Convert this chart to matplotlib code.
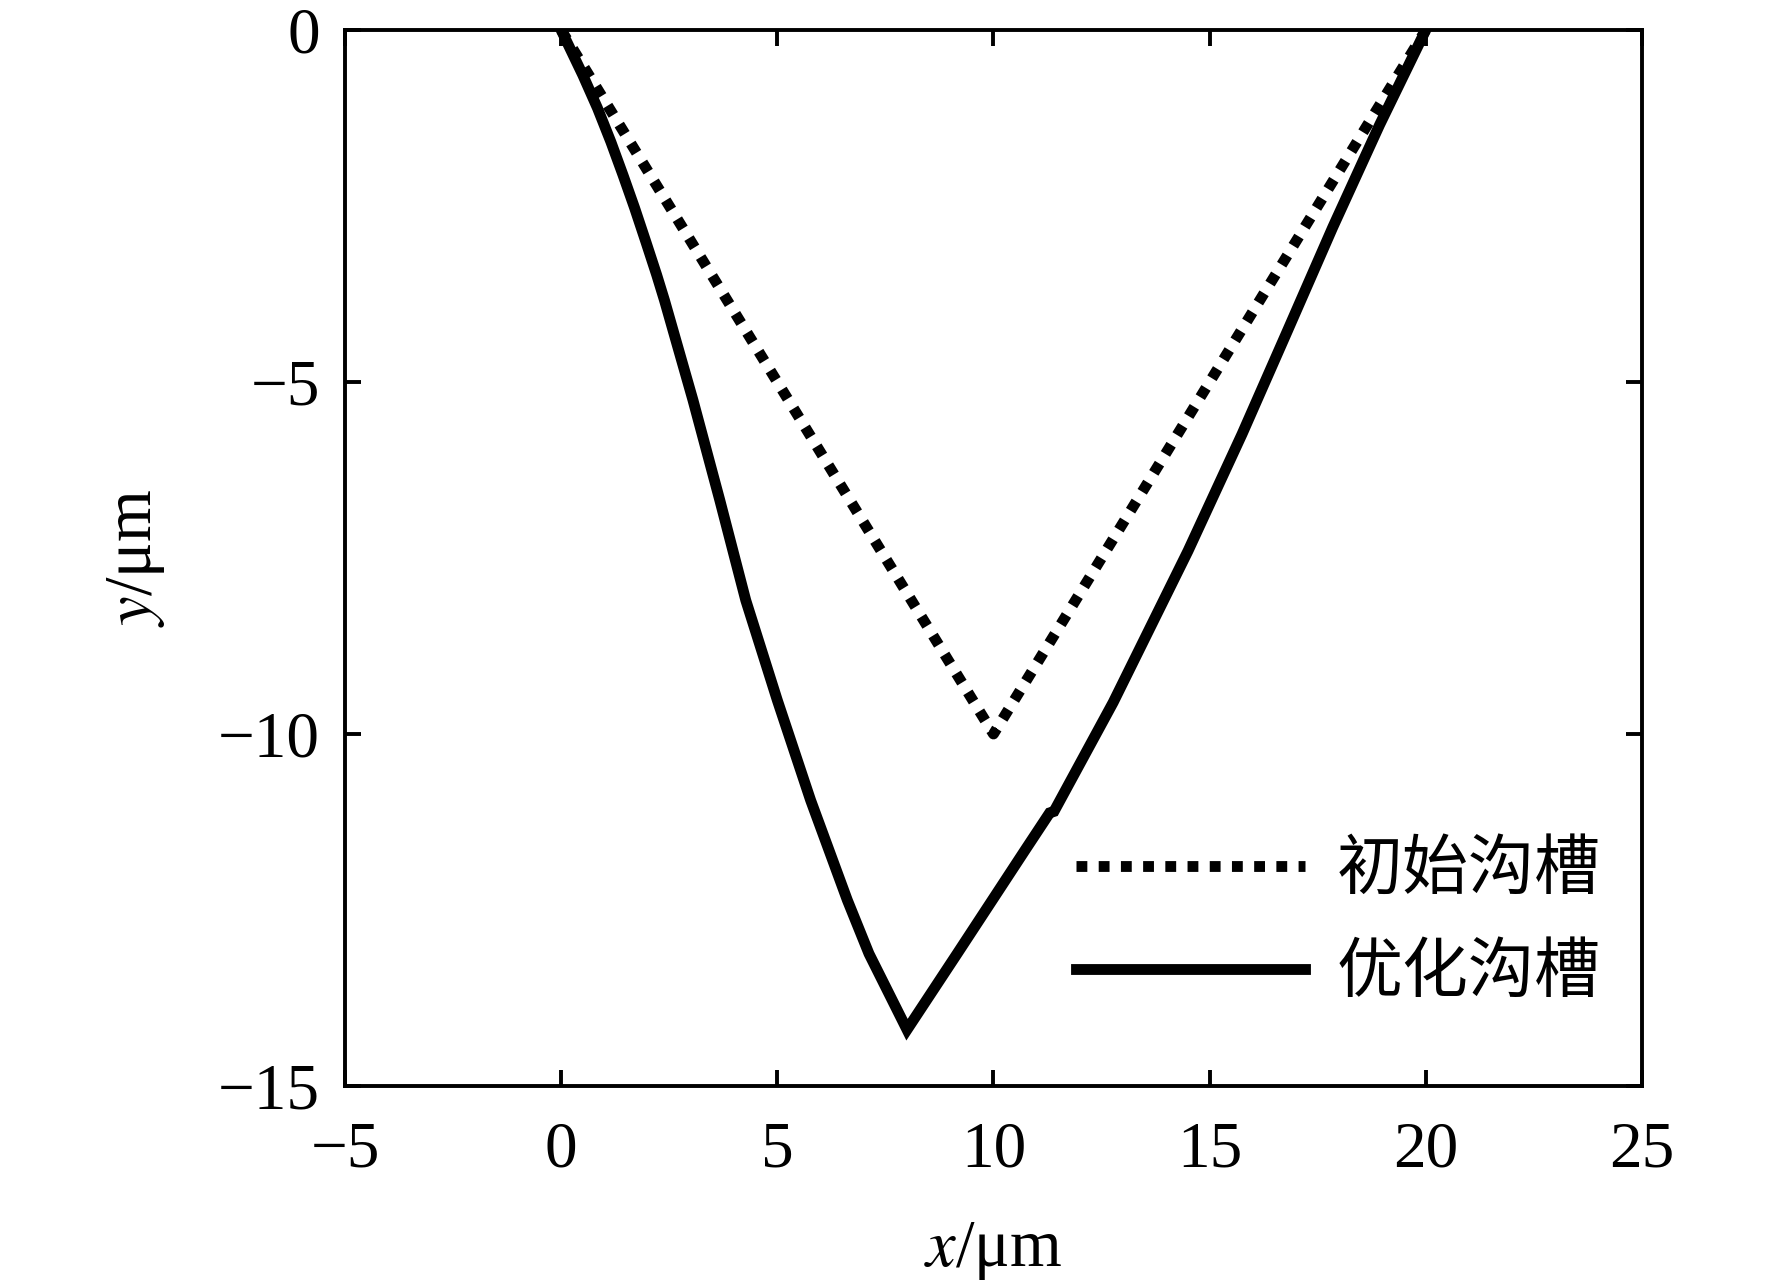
import numpy as np
import matplotlib
matplotlib.use('Agg')
import matplotlib.pyplot as plt

#Fuentes
plt.rcParams['font.family'] = ['Liberation Serif', 'DejaVu Serif']
plt.rcParams['mathtext.fontset'] = 'stix'

#Datos: perfil de los surcos (x en um, y en um)
x_inicial = [0, 10, 20]
y_inicial = [0, -10, 0]

x_optimo = [0, 0.5, 0.84, 1.15, 1.43, 1.70, 1.96, 2.21, 2.39, 3.05, 3.67, 4.27,
            5.0, 5.77, 6.62, 7.12, 8.0,
            9.16, 10.73, 11.3, 11.4, 12.77, 14.5, 15.75, 16.81, 17.85, 18.93, 20]
y_optimo = [0, -0.64, -1.11, -1.59, -2.06, -2.53, -3.01, -3.48, -3.84, -5.26, -6.68, -8.10,
            -9.52, -10.94, -12.36, -13.12, -14.2,
            -13.12, -11.65, -11.12, -11.1, -9.55, -7.4, -5.74, -4.26, -2.80, -1.35, 0]

etiquetas = ['初始沟槽', '优化沟槽']
xticks = [-5, 0, 5, 10, 15, 20, 25]
yticks = [0, -5, -10, -15]

#Figura
fig = plt.figure(figsize=(17.72, 12.86), dpi=100)
ax = fig.add_axes([0.1947, 0.1555, 0.7319, 0.8212])

ax.plot(x_inicial, y_inicial, color='black', lw=7.8,
        linestyle=(0, (1, 1.05)), dash_capstyle='butt', label=etiquetas[0])
ax.plot(x_optimo, y_optimo, color='black', lw=7.8, solid_joinstyle='miter',
        label=etiquetas[1])

ax.set_xlim(-5, 25)
ax.set_ylim(-15, 0)
ax.set_xticks(xticks)
ax.set_yticks(yticks)

for s in ax.spines.values():
    s.set_linewidth(2.8)
ax.tick_params(which='both', direction='in', top=True, right=True,
               length=11.5, width=2.8, labelsize=47)
ax.tick_params(axis='y', pad=18)
ax.tick_params(axis='x', pad=25)

ax.set_xlabel('$x$/μm', fontsize=48, va='baseline')
ax.xaxis.set_label_coords(0.5, -0.1705)
ax.set_ylabel('$y$/μm', fontsize=48, va='bottom')
ax.yaxis.set_label_coords(-0.137, 0.5)

leg = ax.legend(loc='center left', bbox_to_anchor=(0.607, 0.2831),
                bbox_transform=fig.transFigure, frameon=False,
                prop={'family': ['Noto Sans CJK SC'], 'size': 47.5},
                handlelength=3.48, handletextpad=0.48, labelspacing=0.54,
                borderpad=0, borderaxespad=0)

fig.savefig('out.png', dpi=100)
